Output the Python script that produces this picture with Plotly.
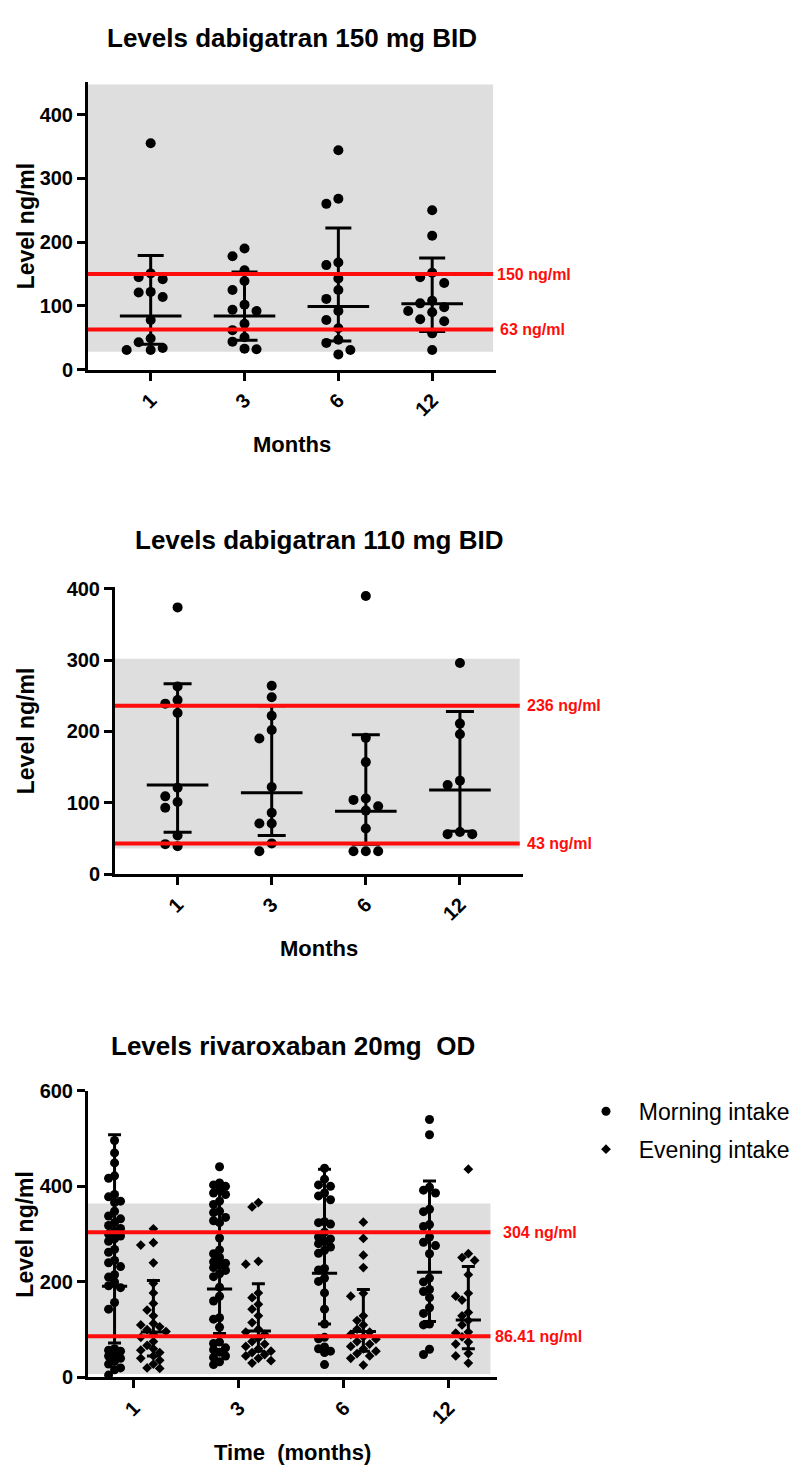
import numpy as np
import plotly.graph_objects as go

months = ["1", "3", "6", "12"]

# dabigatran 150 mg BID (ng/ml)
d150_points = [
    [355, 151, 145, 142, 122, 121, 114, 78, 49, 43, 34, 31, 31],
    [190, 178, 156, 139, 125, 102, 94, 92, 72, 62, 51, 44, 33, 32],
    [344, 268, 260, 168, 164, 143, 125, 111, 92, 78, 65, 47, 42, 31, 24],
    [250, 210, 152, 145, 136, 108, 104, 98, 92, 90, 79, 76, 57, 31],
]
d150_center = [84, 84, 99, 103.5]
d150_low = [40, 46, 45, 60]
d150_high = [179, 153, 222, 175]

# dabigatran 110 mg BID (ng/ml)
d110_points = [
    [374, 263, 244, 239, 226, 121, 109, 101, 93, 54, 42, 39],
    [264, 248, 222, 202, 190, 122, 86, 71, 71, 43, 32],
    [390, 191, 157, 106, 104, 95, 89, 64, 32, 32, 32],
    [296, 211, 196, 131, 125, 59, 56, 56],
]
d110_center = [125, 114, 88, 118]
d110_low = [58.6, 54, 42, 60]
d110_high = [267, 236, 195.5, 228]

# rivaroxaban 20 mg OD (ng/ml)
riva_morning = [
    [496, 470, 449, 422, 417, 383, 378, 369, 366, 348, 338, 332, 324, 318, 312,
     306, 300, 296, 290, 285, 268, 262, 245, 240, 232, 215, 210, 200, 192, 188,
     157, 143, 60, 57, 55, 50, 45, 40, 34, 28, 20, 16, 5],
    [441, 407, 403, 400, 392, 386, 383, 369, 362, 348, 345, 335, 328, 324, 292,
     267, 259, 251, 242, 239, 235, 230, 224, 217, 211, 189, 170, 160, 125, 122,
     105, 74, 71, 62, 58, 53, 45, 42, 33, 27],
    [438, 415, 403, 400, 386, 380, 372, 326, 324, 321, 304, 294, 290, 285, 280,
     273, 266, 260, 228, 225, 208, 201, 177, 143, 112, 84, 81, 64, 60, 55, 52, 27],
    [540, 508, 398, 392, 386, 352, 347, 320, 316, 294, 283, 276, 259, 208, 200,
     184, 180, 167, 146, 134, 112, 110, 59, 48],
]
riva_evening = [
    [311, 282, 277, 240, 197, 177, 155, 141, 129, 113, 110, 106, 100, 96, 90,
     84, 75, 67, 60, 57, 52, 45, 40, 36, 28, 20, 19],
    [366, 357, 243, 237, 177, 167, 153, 143, 129, 115, 101, 95, 90, 82, 75, 70,
     65, 60, 55, 52, 48, 45, 40, 35, 30],
    [325, 291, 256, 230, 176, 170, 129, 119, 110, 101, 95, 90, 85, 80, 75, 70,
     65, 60, 55, 50, 45, 40, 26],
    [436, 259, 251, 245, 215, 176, 170, 162, 136, 129, 119, 110, 95, 93, 85, 74,
     70, 50, 45, 30],
]
riva_m_center = [191, 185, 218, 220]
riva_m_low = [72, 92, 112, 117]
riva_m_high = [508, 400, 436, 411]
riva_e_center = [95, 97, 96, 120]
riva_e_low = [45, 55, 55, 60]
riva_e_high = [203, 196, 184, 232]

W, H = 800, 1477
FONT = "Liberation Sans, Arial, Helvetica, sans-serif"
RED = "#ff0d0d"


def swarm(vals, px_per_unit, step_px, diam, max_k):
    # deterministic column layout, like a GraphPad scatter dot plot
    order = [0]
    for k in range(1, max_k + 1):
        order += [-k, k]
    placed, offs = [], []
    for v in vals:
        y = v * px_per_unit
        best, best_d = 0, -1.0
        for k in order:
            x = k * step_px
            d = min([np.hypot(x - a, y - b) for a, b in placed], default=1e9)
            if d >= diam:
                best = k
                break
            if d > best_d:
                best, best_d = k, d
        placed.append((best * step_px, y))
        offs.append(best)
    return offs


def px(x):
    return x / W


def py(y):
    return 1 - y / H


fig = go.Figure()


def add_group(ax, groups, center, low, high, shift, symbol, size, step,
              ppu, step_px, diam, max_k, bar_size, cap, name=None):
    xs, ys = [], []
    for i, vals in enumerate(groups):
        offs = swarm(vals, ppu, step_px, diam, max_k)
        xs += [i + shift + o * step for o in offs]
        ys += vals
    fig.add_trace(go.Scatter(
        x=xs, y=ys, mode="markers", xaxis="x" + ax, yaxis="y" + ax,
        marker=dict(color="black", size=size, symbol=symbol, line=dict(width=0)),
        name=name, legendgroup=name, showlegend=name is not None,
        hoverinfo="y"))
    c = np.array(center, dtype=float)
    fig.add_trace(go.Scatter(
        x=[i + shift for i in range(len(center))], y=center, mode="markers",
        xaxis="x" + ax, yaxis="y" + ax, showlegend=False,
        marker=dict(symbol="line-ew", size=bar_size, color="black",
                    line=dict(width=3, color="black")),
        error_y=dict(type="data", symmetric=False,
                     array=list(np.array(high) - c),
                     arrayminus=list(c - np.array(low)),
                     color="black", thickness=3, width=cap)))


# panel 1
add_group("", d150_points, d150_center, d150_low, d150_high, 0, "circle", 10,
          0.128, 0.647, 12, 10.5, 2, 44, 13)
# panel 2
add_group("2", d110_points, d110_center, d110_low, d110_high, 0, "circle", 10,
          0.131, 0.728, 12.3, 10.5, 2, 44, 14)
# panel 3
add_group("3", riva_morning, riva_m_center, riva_m_low, riva_m_high, -0.185,
          "circle", 9, 0.057, 0.486, 6, 7, 1, 18, 6.5,
          name="&nbsp;&nbsp;Morning intake")
add_group("3", riva_evening, riva_e_center, riva_e_low, riva_e_high, 0.185,
          "diamond", 7.5, 0.06, 0.486, 6.3, 7, 2, 18, 6.5,
          name="&nbsp;&nbsp;Evening intake")

panels = [
    # axis, x px domain, y px domain, y range, grey band, band width,
    # reference lines (value, text, label x), y ticks, title, x title, title y, x range
    ("", (80, 488), (64, 356), (0, 451), (28, 447), 0.993,
     [(150, "150 ng/ml", 487), (63, "63 ng/ml", 490)], [0, 100, 200, 300, 400],
     "Levels dabigatran 150 mg BID", "Months", 19, (-0.668, 3.68)),
    ("2", (107, 515), (577, 868), (0, 402), (36, 302), 0.992,
     [(236, "236 ng/ml", 517), (43, "43 ng/ml", 517)], [0, 100, 200, 300, 400],
     "Levels dabigatran 110 mg BID", "Months", 529, (-0.665, 3.67)),
    ("3", (80, 489), (1088, 1379), (0, 600), (7, 364), 0.984,
     [(304, "304 ng/ml", 493), (86.41, "86.41 ng/ml", 485)], [0, 200, 400, 600],
     "Levels rivaroxaban 20mg&nbsp; OD", "Time&nbsp; (months)", 1043,
     (-0.438, 3.458)),
]

layout = dict(
    width=W, height=H, margin=dict(l=0, r=0, t=0, b=0),
    paper_bgcolor="white", plot_bgcolor="white",
    font=dict(family=FONT, color="black"),
    shapes=[], annotations=[],
    legend=dict(x=px(578), y=py(1087), xanchor="left", yanchor="top",
                font=dict(size=23, family=FONT), traceorder="grouped",
                bgcolor="rgba(0,0,0,0)", itemsizing="trace", tracegroupgap=5),
)

for (ax, xd, yd, yr, band, frac, limits, yticks, title, xtitle,
     title_y, xr) in panels:
    axis_common = dict(showline=True, linewidth=3, linecolor="black",
                       ticks="outside", ticklen=8, tickwidth=3, tickcolor="black",
                       showgrid=False, zeroline=False,
                       tickfont=dict(size=20, family=FONT, weight="bold"))
    layout["xaxis" + ax] = dict(
        domain=[px(xd[0]), px(xd[1])], range=list(xr), anchor="y" + ax,
        tickvals=[0, 1, 2, 3], ticktext=months, tickangle=-45, **axis_common)
    layout["yaxis" + ax] = dict(
        domain=[py(yd[1]), py(yd[0])], range=list(yr), anchor="x" + ax,
        tickvals=yticks, **axis_common)
    yref = "y" + ax
    layout["shapes"].append(dict(
        type="rect", xref="x" + ax + " domain", yref=yref, x0=0, x1=frac,
        y0=band[0], y1=band[1], fillcolor="#dedede", line=dict(width=0),
        layer="below"))
    for val, txt, lx in limits:
        layout["shapes"].append(dict(
            type="line", xref="x" + ax + " domain", yref=yref, x0=0, x1=frac,
            y0=val, y1=val, line=dict(color=RED, width=4), layer="above"))
        layout["annotations"].append(dict(
            xref="paper", yref=yref, x=px(lx), y=val, text=txt,
            xanchor="left", yanchor="middle", showarrow=False,
            font=dict(color=RED, size=16, family=FONT, weight="bold")))
    cx = (xd[0] + xd[1]) / 2
    layout["annotations"].append(dict(
        xref="paper", yref="paper", x=px(cx), y=py(title_y), text=title,
        showarrow=False, xanchor="center", yanchor="middle",
        font=dict(size=26, family=FONT, weight="bold")))
    layout["annotations"].append(dict(
        xref="paper", yref="paper", x=px(cx), y=py(yd[1] + 76), text=xtitle,
        showarrow=False, xanchor="center", yanchor="middle",
        font=dict(size=22, family=FONT, weight="bold")))
    layout["annotations"].append(dict(
        xref="paper", yref="paper", x=px(17.5), y=py((yd[0] + yd[1]) / 2),
        text="Level ng/ml", textangle=-90, showarrow=False,
        xanchor="center", yanchor="middle",
        font=dict(size=23, family=FONT, weight="bold")))

fig.update_layout(**layout)
fig.write_html("out.html")
